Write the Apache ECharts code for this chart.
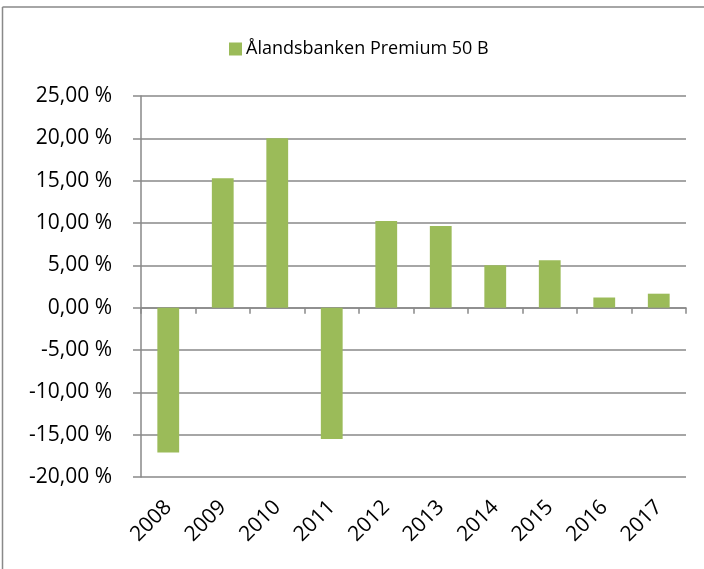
<!DOCTYPE html>
<html>
<head>
<meta charset="utf-8">
<script src="https://cdn.jsdelivr.net/npm/echarts@6/dist/echarts.min.js"></script>
<style>
  html, body { margin: 0; padding: 0; background: #fff; }
  #chart { width: 704px; height: 569px; }
</style>
</head>
<body>
<div id="chart"></div>
<script>
// Annual returns of the fund, in percent
const years = ['2008', '2009', '2010', '2011', '2012', '2013', '2014', '2015', '2016', '2017'];
const returns = [-17.1, 15.3, 20.0, -15.5, 10.25, 9.65, 5.0, 5.6, 1.2, 1.65];
const seriesName = 'Ålandsbanken Premium 50 B';
const yMin = -20, yMax = 25, yStep = 5;

const grey = '#898989';
const barGreen = '#9BBB59';
const fontFamily = '"Open Sans", "Noto Sans", sans-serif';

const fmtPct = v => v.toFixed(2).replace('.', ',') + ' %';

const chart = echarts.init(document.getElementById('chart'), null, { renderer: 'canvas' });
chart.setOption({
  animation: false,
  backgroundColor: '#fff',
  textStyle: { fontFamily },
  graphic: [
    // outer frame (top and left edges)
    { type: 'line', shape: { x1: 2.5, y1: 7, x2: 704, y2: 7 }, style: { stroke: grey, lineWidth: 1.5 } },
    { type: 'line', shape: { x1: 2.5, y1: 7, x2: 2.5, y2: 569 }, style: { stroke: grey, lineWidth: 1.5 } }
  ],
  legend: {
    top: 35,
    left: 224,
    itemWidth: 13,
    itemHeight: 13,
    itemGap: 5,
    icon: 'rect',
    textStyle: { fontSize: 18, color: '#000', fontFamily, padding: [0, 0, 0, -1] },
    data: [seriesName]
  },
  grid: { left: 141, right: 18, top: 96, bottom: 92 },
  xAxis: [
    {
      type: 'category',
      data: years,
      position: 'bottom',
      axisLine: { onZero: true, lineStyle: { color: grey, width: 1.5 } },
      axisTick: { show: true, length: 6, lineStyle: { color: grey, width: 1.5 } },
      axisLabel: { show: false }
    },
    {
      type: 'category',
      data: years,
      position: 'bottom',
      axisLine: { show: false, onZero: false },
      axisTick: { show: false },
      axisLabel: {
        rotate: 45,
        margin: 27,
        fontSize: 21,
        color: '#000',
        fontFamily
      }
    }
  ],
  yAxis: {
    type: 'value',
    min: yMin,
    max: yMax,
    interval: yStep,
    axisLine: { show: true, lineStyle: { color: grey, width: 1.5 } },
    axisTick: { show: true, length: 8, lineStyle: { color: grey, width: 1.5 } },
    splitLine: { show: true, lineStyle: { color: grey, width: 1.5 } },
    axisLabel: {
      formatter: fmtPct,
      margin: 29,
      fontSize: 21,
      color: '#000',
      fontFamily
    }
  },
  series: [
    {
      name: seriesName,
      type: 'bar',
      xAxisIndex: 0,
      data: returns,
      barWidth: '40%',
      itemStyle: { color: barGreen }
    }
  ]
});
</script>
</body>
</html>
